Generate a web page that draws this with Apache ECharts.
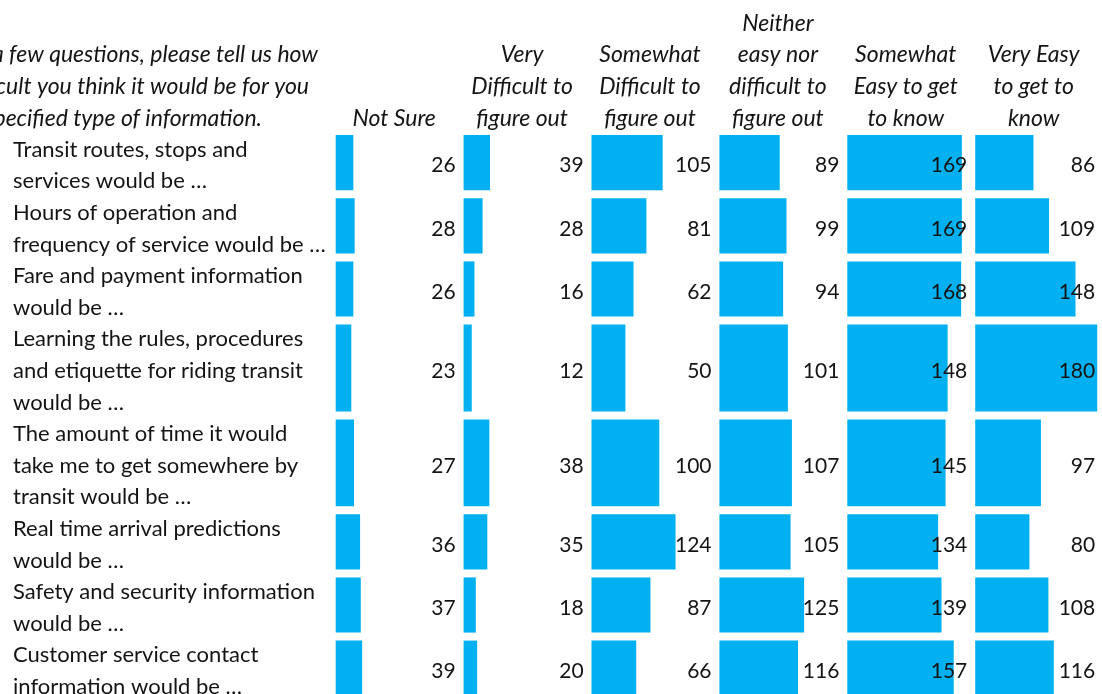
<!DOCTYPE html>
<html><head><meta charset="utf-8">
<script src="https://cdn.jsdelivr.net/npm/echarts@6/dist/echarts.min.js"></script>
<style>html,body{margin:0;padding:0;background:#fff}#c{width:1102px;height:694px}</style>
</head><body><div id="c"></div>
<script>
// ---- data ----
const questionLines = ['a few questions, please tell us how', 'difficult you think it would be for you', 'the specified type of information.'];
const columnHeaders = ['Not Sure', 'Very\nDifficult to\nfigure out', 'Somewhat\nDifficult to\nfigure out', 'Neither\neasy nor\ndifficult to\nfigure out', 'Somewhat\nEasy to get\nto know', 'Very Easy\nto get to\nknow'];
const categories = [
  'Transit routes, stops and\nservices would be …',
  'Hours of operation and\nfrequency of service would be …',
  'Fare and payment information\nwould be …',
  'Learning the rules, procedures\nand etiquette for riding transit\nwould be …',
  'The amount of time it would\ntake me to get somewhere by\ntransit would be …',
  'Real time arrival predictions\nwould be …',
  'Safety and security information\nwould be …',
  'Customer service contact\ninformation would be …'
];
const notSure = [26, 28, 26, 23, 27, 36, 37, 39];
const veryDifficult = [39, 28, 16, 12, 38, 35, 18, 20];
const somewhatDifficult = [105, 81, 62, 50, 100, 124, 87, 66];
const neither = [89, 99, 94, 101, 107, 105, 125, 116];
const somewhatEasy = [169, 169, 168, 148, 145, 134, 139, 157];
const veryEasy = [86, 109, 148, 180, 97, 80, 108, 116];
const seriesValues = [notSure, veryDifficult, somewhatDifficult, neither, somewhatEasy, veryEasy];

// ---- layout ----
const LINE = 31.6, BODY_TOP = 134, COL0 = 335.7, COL_STEP = 127.9, BAR_SPAN = 122, X_MAX = 180;
const LABEL_RIGHT = 120, FONT = 'Lato, sans-serif', FS = 22, FSN = 21, FSI = 23, TXT = '#141414', BAR = '#00B0F0';
const rowLines = categories.map(c => c.split('\n').length);
const rowStart = [];
rowLines.reduce((acc, n) => { rowStart.push(acc); return acc + n; }, 0);
const AXIS_LINES = 16; // grid kept inside the canvas; rows beyond extrapolate linearly

const grids = [], xAxes = [], yAxes = [], series = [];
seriesValues.forEach((vals, ci) => {
  grids.push({ left: COL0 + ci * COL_STEP, top: BODY_TOP, width: BAR_SPAN, height: AXIS_LINES * LINE });
  xAxes.push({ gridIndex: ci, type: 'value', min: 0, max: X_MAX, show: false });
  yAxes.push({ gridIndex: ci, type: 'value', min: 0, max: AXIS_LINES, inverse: true, show: false });
  series.push({
    type: 'custom', xAxisIndex: ci, yAxisIndex: ci, silent: true, clip: false,
    data: vals.map((v, i) => [v, rowStart[i], rowLines[i]]),
    encode: { x: 0, y: 1 },
    renderItem: function (params, api) {
      const v = api.value(0), s = api.value(1), n = api.value(2);
      const p0 = api.coord([0, s]), p1 = api.coord([v, s + n]);
      return {
        type: 'group',
        children: [
          { type: 'rect', shape: { x: p0[0], y: p0[1] + 1, width: p1[0] - p0[0], height: p1[1] - p0[1] - 8 },
            style: { fill: BAR } },
          { type: 'text', z2: 10, style: { x: p0[0] + LABEL_RIGHT, y: (p0[1] + p1[1]) / 2, text: String(v),
            align: 'right', verticalAlign: 'middle', font: FSN + 'px ' + FONT, fill: TXT } }
        ]
      };
    }
  });
});
// row labels
series.push({
  type: 'custom', xAxisIndex: 0, yAxisIndex: 0, silent: true, clip: false,
  data: categories.map((c, i) => [0, rowStart[i], i]),
  encode: { x: 0, y: 1 },
  renderItem: function (params, api) {
    const p = api.coord([0, api.value(1)]);
    return { type: 'text', style: { x: 13, y: p[1], text: categories[api.value(2)], lineHeight: LINE,
      align: 'left', verticalAlign: 'top', font: FS + 'px ' + FONT, fill: TXT } };
  }
});

const graphic = [];
columnHeaders.forEach((h, ci) => {
  graphic.push({ type: 'text', silent: true, style: { x: COL0 + ci * COL_STEP + 58.5, y: BODY_TOP, text: h, lineHeight: LINE,
    align: 'center', verticalAlign: 'bottom', font: 'italic ' + FSI + 'px ' + FONT, fill: TXT } });
});
const qRight = [318, 309, 262];
questionLines.forEach((q, i) => {
  graphic.push({ type: 'text', silent: true, style: { x: qRight[i], y: BODY_TOP - (3 - i) * LINE, text: q, lineHeight: LINE,
    align: 'right', verticalAlign: 'top', font: 'italic ' + FSI + 'px ' + FONT, fill: TXT } });
});

const chart = echarts.init(document.getElementById('c'), null, { renderer: 'canvas' });
chart.setOption({ animation: false, backgroundColor: '#fff', grid: grids, xAxis: xAxes, yAxis: yAxes, series: series, graphic: graphic });
</script></body></html>
